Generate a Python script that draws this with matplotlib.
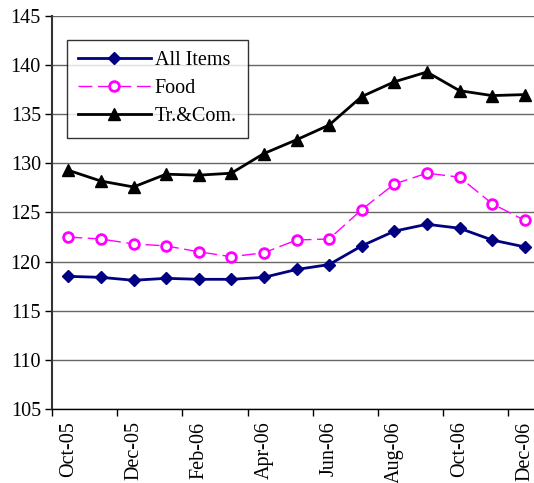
import matplotlib
matplotlib.use("Agg")
import matplotlib.pyplot as plt
import numpy as np

# Data
months = ["Oct-05", "Nov-05", "Dec-05", "Jan-06", "Feb-06", "Mar-06", "Apr-06",
          "May-06", "Jun-06", "Jul-06", "Aug-06", "Sep-06", "Oct-06", "Nov-06", "Dec-06"]
all_items = [118.5, 118.4, 118.1, 118.3, 118.2, 118.2, 118.4,
             119.2, 119.7, 121.6, 123.1, 123.8, 123.4, 122.2, 121.5]
food = [122.5, 122.3, 121.8, 121.6, 121.0, 120.5, 120.9,
        122.2, 122.3, 125.3, 127.9, 129.0, 128.6, 125.9, 124.2]
tr_com = [129.3, 128.2, 127.6, 128.9, 128.8, 129.0, 131.0,
          132.4, 133.9, 136.8, 138.3, 139.3, 137.4, 136.9, 137.0]

plt.rcParams['font.family'] = ['Liberation Serif', 'DejaVu Serif']

fig = plt.figure(figsize=(5.34, 4.83), dpi=100)
# plot area runs past the right edge of the picture (cropped original)
ax = fig.add_axes([52/534, 1 - 409/483, 489/534, 393/483])

x = np.arange(len(months))
ax.plot(x, all_items, color="#000080", lw=2, marker="D", ms=6,
        label="All Items", zorder=4)
ax.plot(x, food, color="#FF00FF", lw=1, dashes=(10, 4), marker="o", ms=7,
        mfc="white", mec="#FF00FF", mew=2, label="Food", zorder=3)
ax.plot(x, tr_com, color="black", lw=2, marker="^", ms=8,
        label="Tr.&Com.", zorder=4)

ax.set_ylim(105, 145)
ax.set_yticks(np.arange(105, 146, 5))
ax.set_xlim(-0.5, len(months) - 0.5)

# Excel style: tick marks between categories, labels on every second month
ax.set_xticks(np.arange(-0.5, len(months) - 0.5, 2))
ax.set_xticklabels([])
ax.set_xticks(x[::2], minor=True)
ax.set_xticklabels(months[::2], minor=True, rotation=90)
ax.tick_params(axis="x", which="minor", length=0, pad=9, labelsize=14.5)
ax.tick_params(axis="x", which="major", length=5, width=1, direction="out")
ax.tick_params(axis="y", length=5, width=1, direction="out", labelsize=14.5, pad=3)

ax.grid(axis="y", color="#666666", lw=1)
ax.set_axisbelow(True)
for side in ["top", "right"]:
    ax.spines[side].set_visible(False)
ax.spines["left"].set_linewidth(1.5)
ax.spines["left"].set_color("#333333")
ax.spines["bottom"].set_linewidth(1)

leg = fig.legend(loc="upper left", bbox_to_anchor=(67/534, 1 - 40/483),
                 fontsize=14.5, handlelength=3.6, frameon=True, fancybox=False,
                 edgecolor="black", borderpad=0.55, labelspacing=0.45,
                 handletextpad=0.2, borderaxespad=0)
leg.get_frame().set_linewidth(1)

fig.savefig("out.png", dpi=100)
